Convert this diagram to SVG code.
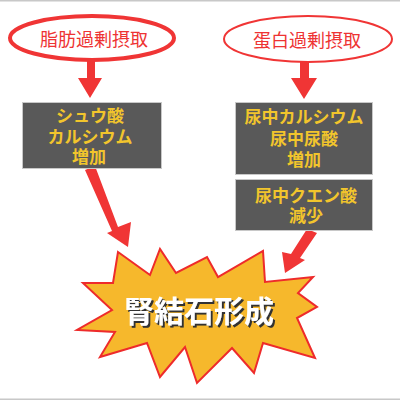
<svg xmlns="http://www.w3.org/2000/svg" width="400" height="400" viewBox="0 0 400 400">
<defs>
<filter id="sh" x="-10%" y="-20%" width="130%" height="150%">
<feDropShadow dx="2" dy="2" stdDeviation="0.6" flood-color="#333" flood-opacity="1"/>
</filter>
</defs>
<style>
.ell{fill:#fff;stroke:#f03535}
.etx{font-family:"Liberation Sans","Noto Sans CJK JP",sans-serif;font-size:18px;fill:#ee3333;text-anchor:middle}
.box{fill:#595959;stroke:#c8c8c8;stroke-width:1}
.btx{font-family:"Liberation Sans","Noto Sans CJK JP",sans-serif;font-size:17px;font-weight:bold;fill:#f2c52c;text-anchor:middle}
.arr{fill:#f03535}
.big{font-family:"Liberation Sans","Noto Sans CJK JP",sans-serif;font-size:30px;font-weight:bold;text-anchor:middle;fill:#fff}
</style>
<rect x="0" y="0" width="400" height="400" fill="#fff"/>
<rect x="0" y="0" width="400" height="1.5" fill="#c8c8c8"/>
<rect x="0" y="398.5" width="400" height="1.5" fill="#c8c8c8"/>
<g id="connectors">
<polygon class="arr" points="87,58 95,58 95,78 102,78 90,98 78,78 87,78"/>
<polygon class="arr" points="300,60 309,60 309,78 317,78 304,99 291,78 300,78"/>
<polygon class="arr" points="85,170 95,166 118,227 131,222 128,247 107,233 112,231"/>
<polygon class="arr" points="307,229 317,233 300,258 305,260 285,273 282,252 291,254"/>
</g>
<g id="fat">
<ellipse class="ell" cx="92" cy="38" rx="82" ry="22" stroke-width="4"/>
<text class="etx" x="94" y="46">脂肪過剰摂取</text>
</g>
<g id="protein">
<ellipse class="ell" cx="308" cy="39" rx="84" ry="23" stroke-width="2"/>
<text class="etx" x="307" y="47">蛋白過剰摂取</text>
</g>
<g id="box1">
<rect class="box" x="22.5" y="102.5" width="139" height="66"/>
<text class="btx" x="90" y="122">シュウ酸</text>
<text class="btx" x="90" y="143">カルシウム</text>
<text class="btx" x="89" y="163">増加</text>
</g>
<g id="box2">
<rect class="box" x="235.5" y="102.5" width="137" height="72"/>
<text class="btx" x="304" y="123">尿中カルシウム</text>
<text class="btx" x="304" y="145">尿中尿酸</text>
<text class="btx" x="304" y="166">増加</text>
</g>
<g id="box3">
<rect class="box" x="235.5" y="179.5" width="137" height="51"/>
<text class="btx" x="306" y="202">尿中クエン酸</text>
<text class="btx" x="306" y="222">減少</text>
</g>
<g id="stone">
<polygon fill="#f6b82c" stroke="#ee2b2b" stroke-width="2" stroke-linejoin="miter" points="118,252 150,275 160,249 176,273 207,257 218,277 263,251 265,282 313,277 298,293 317,307 297,318 315,358 263,343 254,373 232,348 197,383 185,347 160,377 147,343 100,357 115,332 77,330 112,310 83,283 113,283"/>
<text class="big" x="199" y="322" filter="url(#sh)">腎結石形成</text>
</g>
</svg>
